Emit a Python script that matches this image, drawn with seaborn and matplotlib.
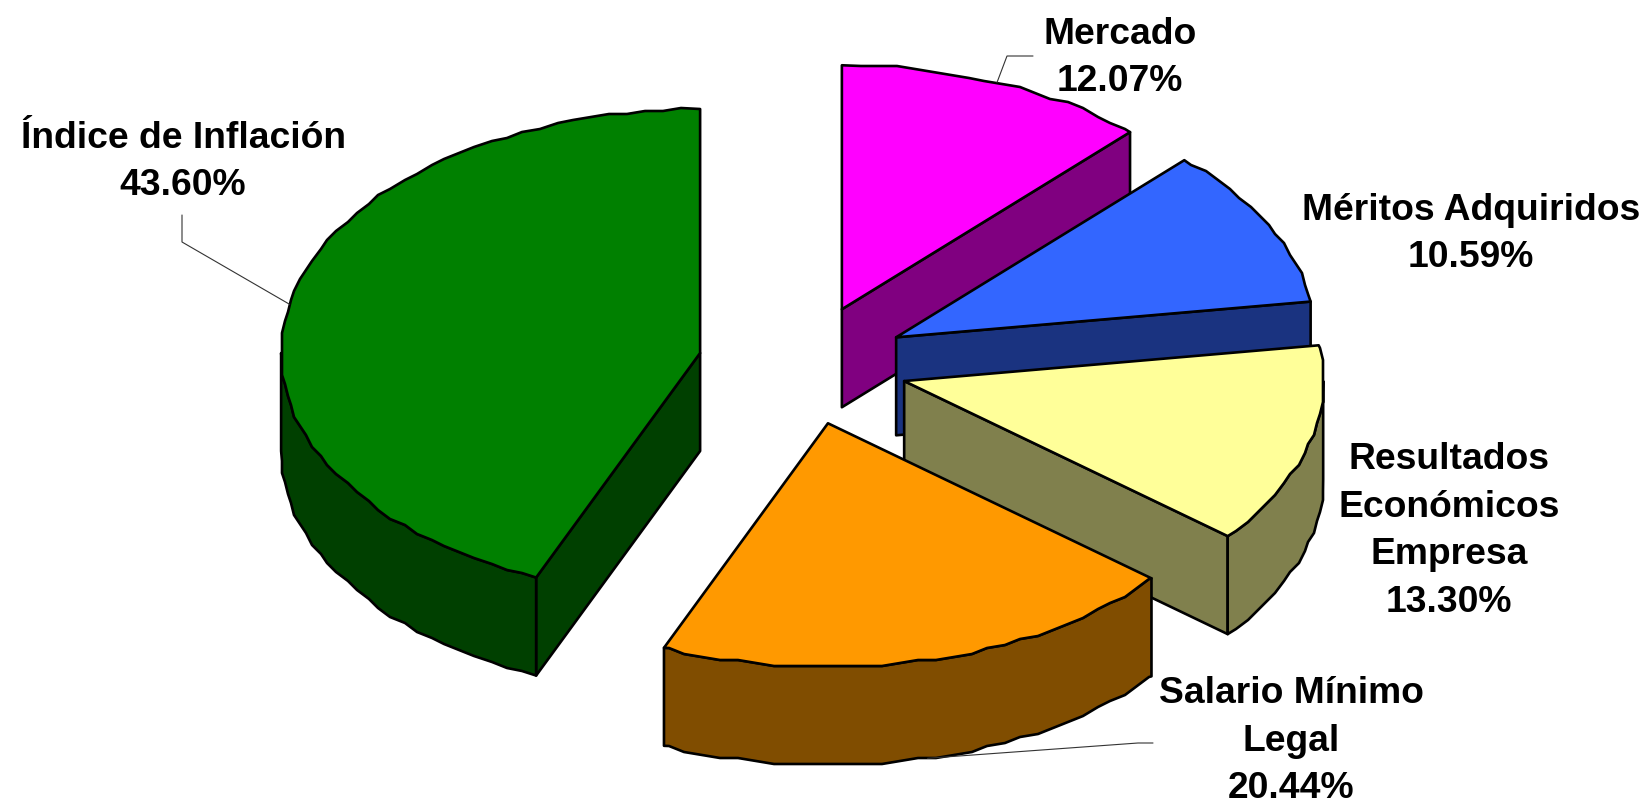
import numpy as np
import matplotlib
matplotlib.use('Agg')
import matplotlib.pyplot as plt
import seaborn as sns

labels = ['Mercado', 'Méritos Adquiridos', 'Resultados\nEconómicos\nEmpresa', 'Salario Mínimo\nLegal', 'Índice de Inflación']
values = [12.07, 10.59, 13.30, 20.44, 43.60]
top_colors = ['#FF00FF', '#3366FF', '#FFFF99', '#FF9900', '#008000']

sns.set_theme(style='white')
plt.rcParams['font.family'] = ['Liberation Sans', 'DejaVu Sans']

# pie geometry in pixels of the 1644x805 canvas
RX, RY, DEPTH = 419, 244, 98
CX, CY = 803, 365
EXPLODE_X, EXPLODE_Y = 105, 60
STEP = 3

fig, ax = plt.subplots(figsize=(16.44, 8.05), dpi=100)
fig.subplots_adjust(0, 0, 1, 1)
ax.set_xlim(0, 1644)
ax.set_ylim(805, 0)
ax.axis('off')

pal = sns.color_palette(top_colors)
edges = np.cumsum([0] + values) * 3.6


def arc(cx, cy, t0, t1, dy=0):
    # same angle grid for every arc so wall and top outlines coincide
    grid = np.arange(0, 360, 2.5)
    t = np.radians(np.r_[t0, grid[(grid > t0) & (grid < t1)], t1])
    x = cx + RX * np.sin(t)
    y = cy - RY * np.cos(t)
    # the original outline is stepped, snap the inner points to a coarse grid
    x[1:-1] = np.round(x[1:-1] / STEP) * STEP
    y[1:-1] = np.round(y[1:-1] / STEP) * STEP
    return x, y + dy


def draw_wedge(i):
    t0, t1 = edges[i], edges[i + 1]
    mid = np.radians((t0 + t1) / 2)
    cx = CX + EXPLODE_X * np.sin(mid)
    cy = CY - EXPLODE_Y * np.cos(mid)
    face = pal[i]
    dark = tuple(c * 0.5 for c in face)
    style = dict(edgecolor='black', linewidth=1.9, joinstyle='round')

    # cut faces that turn towards the viewer
    for t, visible in ((t0, 180 < t0 < 360), (t1, 0 < t1 < 180)):
        if visible:
            ex = cx + RX * np.sin(np.radians(t))
            ey = cy - RY * np.cos(np.radians(t))
            ax.fill([cx, ex, ex, cx], [cy, ey, ey + DEPTH, cy + DEPTH], facecolor=dark, **style)

    # outer wall, front half of the ellipse only
    a, b = max(t0, 90), min(t1, 270)
    if a < b:
        x, y = arc(cx, cy, a, b)
        x2, y2 = arc(cx, cy, a, b, DEPTH)
        ax.fill(np.r_[x, x2[::-1]], np.r_[y, y2[::-1]], facecolor=dark, **style)

    x, y = arc(cx, cy, t0, t1)
    ax.fill(np.r_[cx, x], np.r_[cy, y], facecolor=face, **style)
    return cx, cy, mid


centers = {}
for i in [0, 1, 4, 2, 3]:
    centers[i] = draw_wedge(i)

# leader lines start on the rim at the middle of the slice
leaders = {0: ([1007, 1033], [56, 56], 0),
           3: ([1138, 1153], [743, 743], DEPTH),
           4: ([182, 182], [242, 215], 0)}
for i, (lx, ly, dy) in leaders.items():
    cx, cy, mid = centers[i]
    ax.plot([cx + RX * np.sin(mid)] + lx, [cy - RY * np.cos(mid) + dy] + ly, color='#333333', lw=0.8)

label_pos = [(1120, 58), (1471, 234), (1449, 531), (1291, 741), (183, 162)]
for name, val, (tx, ty) in zip(labels, values, label_pos):
    ax.text(tx, ty, f'{name}\n{val:.2f}%', ha='center', va='center', fontsize=26.8,
            fontweight='bold', color='black', linespacing=1.47)

plt.savefig('out.png', dpi=100)
plt.close()
